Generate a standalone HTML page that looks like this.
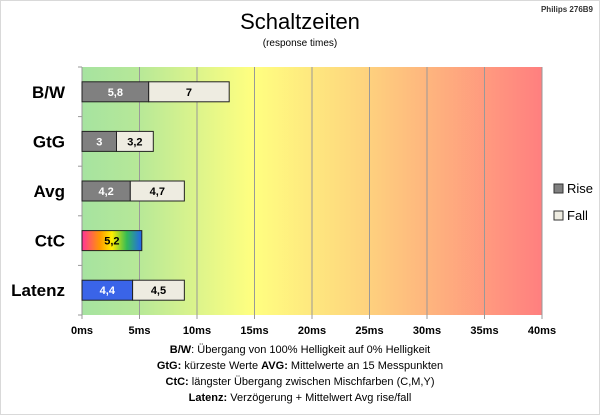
<!DOCTYPE html>
<html><head><meta charset="utf-8"><style>
body{margin:0;background:#fff;font-family:"Liberation Sans",sans-serif}
#wrap{position:relative;width:598px;height:413px;border:1px solid #d9d9d9;overflow:hidden}
</style></head><body>
<div id="wrap">
<svg width="598" height="413">
<defs>
<linearGradient id="bg" x1="0" x2="1" y1="0" y2="0">
<stop offset="0" stop-color="#a6e3a0"/><stop offset="0.12" stop-color="#b6e898"/>
<stop offset="0.37" stop-color="#ffff80"/><stop offset="0.6" stop-color="#fed67e"/>
<stop offset="1" stop-color="#ff7f7f"/></linearGradient>
<linearGradient id="rb" x1="0" x2="1"><stop offset="0" stop-color="#ff3399"/><stop offset="0.3" stop-color="#ff9900"/><stop offset="0.5" stop-color="#ffee00"/><stop offset="0.75" stop-color="#33bb55"/><stop offset="1" stop-color="#2266ee"/></linearGradient>
</defs>
<text x="299" y="28" text-anchor="middle" font-size="22" fill="#000">Schaltzeiten</text>
<text x="299" y="45" text-anchor="middle" font-size="10">(response times)</text>
<text x="592" y="11" text-anchor="end" font-size="8" font-weight="bold" fill="#333">Philips 276B9</text>
<g id="plot"></g>
<g>
<rect x="553" y="183" width="9" height="9" fill="#808080" stroke="#333"/>
<text x="566" y="192" font-size="13">Rise</text>
<rect x="553" y="210" width="9" height="9" fill="#eeece1" stroke="#333"/>
<text x="566" y="219" font-size="13">Fall</text>
</g>
<g font-size="11" text-anchor="middle">
<text x="299" y="352"><tspan font-weight="bold">B/W</tspan>:  Übergang von 100% Helligkeit auf 0% Helligkeit</text>
<text x="299" y="368"><tspan font-weight="bold">GtG:</tspan> kürzeste  Werte       <tspan font-weight="bold">AVG:</tspan> Mittelwerte  an 15 Messpunkten</text>
<text x="299" y="384"><tspan font-weight="bold">CtC:</tspan> längster Übergang  zwischen Mischfarben  (C,M,Y)</text>
<text x="299" y="400"><tspan font-weight="bold">Latenz:</tspan> Verzögerung  + Mittelwert Avg rise/fall</text>
</g>
</svg></div>
<script>
const categories=["B/W","GtG","Avg","CtC","Latenz"];
const riseValues=[5.8,3,4.2,5.2,4.4];
const fallValues=[7,3.2,4.7,0,4.5];
const riseLabels=["5,8","3","4,2","5,2","4,4"];
const fallLabels=["7","3,2","4,7","","4,5"];
const tickValues=[0,5,10,15,20,25,30,35,40];
const NS="http://www.w3.org/2000/svg";
const X0=81,X1=541,Y0=66,Y1=314,MAX=40;
const xs=v=>X0+(X1-X0)*v/MAX;
const band=(Y1-Y0)/categories.length;
const g=document.getElementById('plot');
function mk(t,a,p){const e=document.createElementNS(NS,t);for(const k in a)e.setAttribute(k,a[k]);(p||g).appendChild(e);return e;}
const bgr=mk('rect',{x:X0,y:Y0,width:X1-X0,height:Y1-Y0,fill:'url(#bg)'});


tickValues.forEach(v=>{
 const l=mk('line',{x1:xs(v),x2:xs(v),y1:Y0,y2:Y1+4,stroke:'#999','stroke-width':1});
 
 
 const t=mk('text',{x:xs(v),y:333,'text-anchor':'middle','font-size':11,'font-weight':'bold'});
 t.textContent=v+'ms';
 
 
});
for(let i=0;i<=categories.length;i++){
 const l=mk('line',{x1:X0-4,x2:X0,y1:Y0+band*i,y2:Y0+band*i,stroke:'#999'});
 
 
}
categories.forEach((c,i)=>{
 const cy=Y0+band*(i+0.5),h=20,y=cy-h/2;
 const t=mk('text',{x:64,y:cy+6,'text-anchor':'end','font-size':17,'font-weight':'bold'});
 t.textContent=c;
 
 
 const fill=c==="CtC"?'url(#rb)':(c==="Latenz"?'#3a64e8':'#808080');
 const r=mk('rect',{x:xs(0),y:y,width:xs(riseValues[i])-xs(0),height:h,fill:fill,stroke:'#222','stroke-width':1});
 
 
 const rt=mk('text',{x:(xs(0)+xs(riseValues[i]))/2,y:cy+4,'text-anchor':'middle','font-size':11,'font-weight':'bold',fill:c==="CtC"?'#000':'#fff'});
 rt.textContent=riseLabels[i];
 
 
 if(fallValues[i]>0){
  const a=xs(riseValues[i]),b=xs(riseValues[i]+fallValues[i]);
  const f=mk('rect',{x:a,y:y,width:b-a,height:h,fill:'#eeece1',stroke:'#222','stroke-width':1});
  
  
  const ft=mk('text',{x:(a+b)/2,y:cy+4,'text-anchor':'middle','font-size':11,'font-weight':'bold'});
  ft.textContent=fallLabels[i];
  
  
 }
});
</script>
</body></html>
